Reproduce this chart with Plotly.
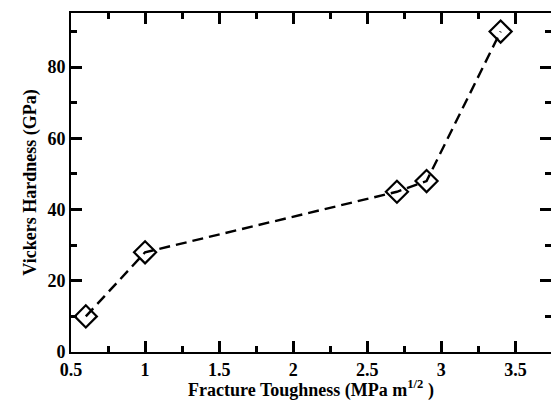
import plotly.graph_objects as go

toughness = [0.6, 1.0, 2.7, 2.9, 3.4]
hardness = [10, 28, 45, 48, 90]

xr = [0.5, 3.74]
yr = [0, 95.2]

fig = go.Figure()
fig.add_trace(go.Scatter(
    x=toughness, y=hardness, mode="lines+markers",
    line=dict(color="black", width=2.4, dash="11px,6px"),
    marker=dict(symbol="diamond-open", size=17, color="black", line=dict(width=2.2, color="black")),
    showlegend=False, hoverinfo="skip",
))

fam = "Liberation Serif"
fig.update_layout(
    width=551, height=401,
    margin=dict(l=71, r=0, t=13, b=49),
    paper_bgcolor="white", plot_bgcolor="white",
    font=dict(family=fam, size=18, color="black"),
)
fig.update_xaxes(
    range=xr, tickmode="linear", tick0=0.5, dtick=0.5,
    ticks="inside", ticklen=11, tickwidth=2.5, tickcolor="black",
    minor=dict(ticks="inside", ticklen=6, tickwidth=2.5, tickcolor="black", dtick=0.25, tick0=0.5, showgrid=False),
    showline=True, linecolor="black", linewidth=2, mirror="allticks",
    showgrid=False, zeroline=False, automargin=False,
    tickfont=dict(family=fam, size=18, weight="bold", color="black"),
    ticklabelstandoff=0,
    title=dict(text="Fracture Toughness (MPa m<sup>1/2</sup> )",
               font=dict(family=fam, size=18, weight="bold", color="black"), standoff=0),
)
fig.update_yaxes(
    range=yr, tickmode="linear", tick0=0, dtick=20,
    ticks="inside", ticklen=11, tickwidth=2.5, tickcolor="black",
    minor=dict(ticks="inside", ticklen=6, tickwidth=2.5, tickcolor="black", dtick=10, tick0=0, showgrid=False),
    showline=True, linecolor="black", linewidth=2, mirror="allticks",
    showgrid=False, zeroline=False, automargin=False,
    tickfont=dict(family=fam, size=18, weight="bold", color="black"),
    title=dict(text="Vickers Hardness (GPa)",
               font=dict(family=fam, size=18, weight="bold", color="black"), standoff=6),
)

fig.write_html("out.html", config={"displayModeBar": False},
               post_script="document.body.style.margin='0';document.body.style.overflow='hidden';")
